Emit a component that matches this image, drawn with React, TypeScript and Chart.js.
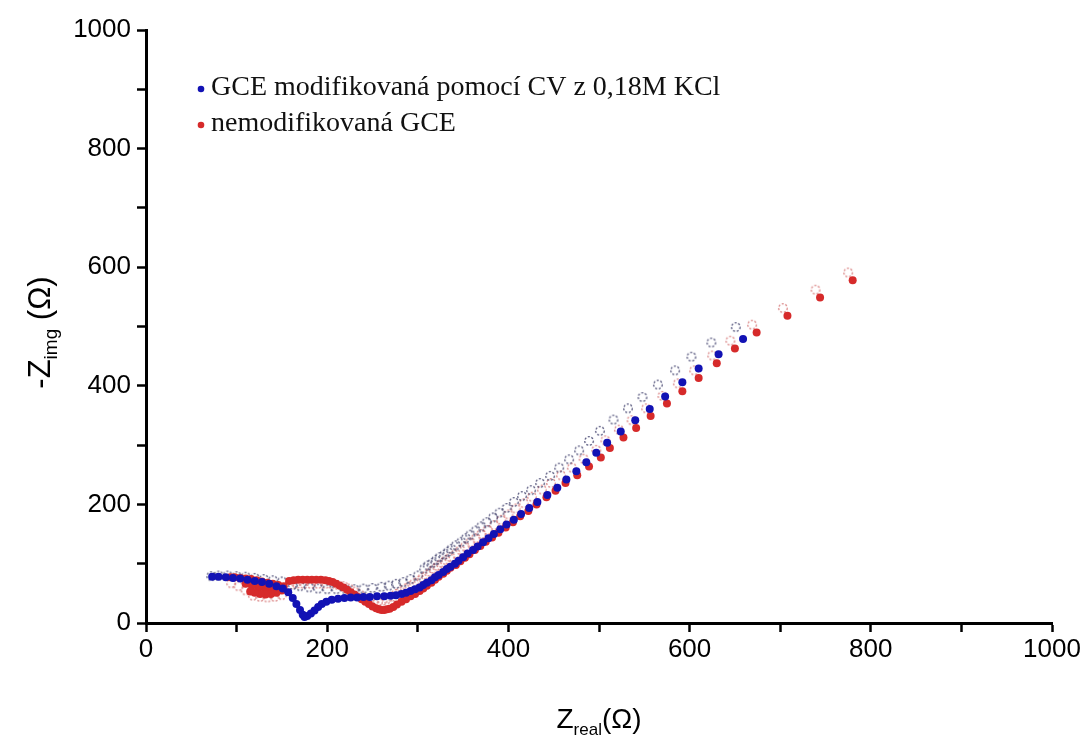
import React, { useEffect, useRef } from "react";
import { Chart, registerables } from "chart.js";

Chart.register(...registerables);

// ---- axis configuration ----
const X_MIN = 0;
const X_MAX = 1000;
const Y_MIN = 0;
const Y_MAX = 1000;
const TICK_STEP = 100;
const LABEL_STEP = 200;

// ---- texts ----
const seriesLabels = ["GCE modifikovaná pomocí CV z 0,18M KCl", "nemodifikovaná GCE"];
const xTitleParts = ["Z", "real", "(Ω)"];
const yTitleParts = ["-Z", "img", " (Ω)"];

// ---- series: GCE modifikovaná (blue) ----
const blueX = [659, 632, 610, 592, 573, 556, 540, 524, 509, 497, 486, 475, 464, 454, 443, 432, 423, 414, 406, 398, 391, 384, 378, 372, 366, 361, 355, 350, 345, 341, 336, 332, 328, 323, 319, 315, 310, 306, 302, 297, 292, 287, 282, 276, 270, 263, 255, 247, 240, 233, 226, 219, 212, 205, 199, 194, 190, 186, 182, 178, 175, 173, 170, 166, 162, 157, 151, 144, 136, 128, 120, 112, 104, 96, 88, 80, 73];
const blueY = [479, 453, 429, 406, 382, 361, 342, 323, 304, 287, 271, 256, 242, 228, 216, 204, 194, 184, 174, 166, 158, 150, 143, 136, 129, 123, 117, 111, 105, 100, 95, 91, 86, 81, 77, 72, 68, 64, 60, 57, 54, 51, 49, 47, 46, 45, 45, 44, 44, 43, 43, 42, 41, 39, 36, 32, 27, 21, 16, 12, 10, 14, 22, 32, 42, 52, 58, 62, 66, 69, 71, 73, 75, 76, 77, 78, 78];

// ---- series: nemodifikovaná (red) ----
const redX = [780, 744, 708, 674, 650, 630, 610, 592, 575, 557, 541, 527, 512, 502, 489, 476, 463, 452, 442, 431, 422, 413, 405, 397, 389, 382, 375, 369, 363, 357, 352, 347, 342, 336, 332, 328, 323, 319, 315, 310, 306, 302, 297, 292, 287, 282, 277, 273, 269, 266, 263, 260, 257, 254, 250, 246, 242, 238, 234, 230, 226, 222, 218, 214, 210, 206, 202, 198, 193, 188, 183, 178, 173, 168, 163, 158, 152, 146, 140, 134, 128, 122, 116, 110, 104, 98, 93, 145, 138, 131, 124, 117, 110, 150, 144, 138, 132, 126, 120, 115];
const redY = [578, 549, 518, 490, 463, 438, 413, 391, 370, 349, 329, 313, 295, 279, 264, 249, 236, 223, 212, 200, 189, 180, 170, 161, 152, 144, 137, 130, 123, 116, 110, 104, 98, 93, 88, 83, 78, 73, 68, 63, 58, 54, 49, 45, 40, 36, 31, 27, 24, 23, 22, 22, 23, 25, 28, 32, 36, 40, 44, 48, 52, 56, 60, 63, 66, 69, 71, 72, 73, 73, 73, 73, 73, 73, 72, 71, 62, 64, 66, 68, 70, 72, 74, 75, 76, 77, 77, 58, 57, 58, 60, 63, 66, 55, 51, 49, 48, 49, 51, 53];

// ---- faint open (ghost) markers ----
const blueOpenX = [651, 624, 602, 584, 565, 548, 532, 516, 501, 489, 478, 467, 456, 446, 435, 425, 415, 406, 398, 390, 383, 376, 370, 364, 358, 353, 348, 342, 337, 333, 329, 324, 320, 316, 311, 307, 300, 292, 284, 276, 268, 260, 250, 240, 230, 220, 210, 200, 190, 180, 170, 162, 150, 140, 130, 120, 110, 100, 90, 80, 72];
const blueOpenY = [499, 473, 449, 426, 402, 381, 362, 343, 324, 307, 291, 276, 262, 248, 236, 224, 214, 204, 194, 186, 178, 170, 163, 156, 149, 143, 137, 131, 125, 120, 115, 111, 106, 101, 97, 92, 80, 74, 69, 66, 63, 61, 59, 58, 57, 57, 57, 57, 58, 60, 62, 64, 70, 72, 74, 76, 78, 79, 80, 80, 79];
const redOpenX = [775, 739, 703, 669, 645, 625, 605, 587, 570, 552, 536, 522, 507, 497, 483, 470, 458, 447, 437, 426, 417, 408, 400, 392, 384, 377, 370, 364, 358, 352, 347, 342, 336, 331, 327, 322, 318, 314, 310, 305, 301, 296, 291, 286, 281, 276, 271, 266, 261, 256, 251, 246, 241, 236, 230, 224, 218, 212, 205, 198, 190, 182, 174, 166, 158, 150, 142, 134, 126, 118, 110, 102, 94];
const redOpenY = [591, 562, 531, 503, 476, 451, 426, 404, 383, 362, 342, 326, 308, 292, 277, 262, 249, 236, 225, 213, 202, 193, 183, 174, 165, 157, 150, 143, 136, 129, 123, 117, 111, 106, 101, 96, 91, 86, 81, 76, 71, 67, 62, 58, 53, 49, 44, 40, 37, 35, 36, 39, 43, 48, 53, 58, 62, 64, 66, 66, 66, 66, 66, 66, 64, 47, 44, 43, 44, 46, 55, 62, 67];

// ---- colours ----
const BLUE = "#1212b4";
const RED = "#d62a2a";
const BLUE_OPEN = "rgba(40,40,90,0.75)";
const RED_OPEN = "rgba(205,90,90,0.7)";

const TICK_FONT = "'Liberation Sans', Arial, sans-serif";
const SERIF_FONT = "'Liberation Serif', 'Times New Roman', serif";

function makeOpenMarker(color: string): HTMLCanvasElement {
  const c = document.createElement("canvas");
  c.width = 12;
  c.height = 12;
  const g = c.getContext("2d")!;
  g.strokeStyle = color;
  g.lineWidth = 1.3;
  g.setLineDash([2, 1.7]);
  g.beginPath();
  g.arc(6, 6, 4.3, 0, Math.PI * 2);
  g.stroke();
  return c;
}

function toPoints(xs: number[], ys: number[]) {
  return xs.map((x, i) => ({ x, y: ys[i] }));
}

export default function App() {
  const ref = useRef<HTMLCanvasElement>(null);

  useEffect(() => {
    const canvas = ref.current;
    if (!canvas) return;

    const overlay = {
      id: "overlay",
      afterDraw(chart: any) {
        const ctx = chart.ctx as CanvasRenderingContext2D;
        const area = chart.chartArea;
        ctx.save();
        // legend
        const colors = [BLUE, RED];
        seriesLabels.forEach((label, i) => {
          const y = 88 + i * 36;
          ctx.fillStyle = colors[i];
          ctx.beginPath();
          ctx.arc(201, y + 1, 3.3, 0, Math.PI * 2);
          ctx.fill();
          ctx.fillStyle = "#111";
          ctx.font = `28px ${SERIF_FONT}`;
          ctx.textBaseline = "middle";
          ctx.textAlign = "left";
          ctx.fillText(label, 211, y);
        });

        // x title
        const bigX = `28px ${TICK_FONT}`;
        const smallX = `17px ${TICK_FONT}`;
        ctx.fillStyle = "#000";
        ctx.textBaseline = "alphabetic";
        ctx.font = bigX;
        const w0 = ctx.measureText(xTitleParts[0]).width;
        const w2 = ctx.measureText(xTitleParts[2]).width;
        ctx.font = smallX;
        const w1 = ctx.measureText(xTitleParts[1]).width;
        const cx = (area.left + area.right) / 2;
        let x = cx - (w0 + w1 + w2) / 2;
        const by = 728;
        ctx.font = bigX;
        ctx.fillText(xTitleParts[0], x, by);
        x += w0;
        ctx.font = smallX;
        ctx.fillText(xTitleParts[1], x, by + 7);
        x += w1;
        ctx.font = bigX;
        ctx.fillText(xTitleParts[2], x, by);

        // y title (rotated)
        const bigY = `31px ${TICK_FONT}`;
        const smallY = `19px ${TICK_FONT}`;
        ctx.save();
        const cy = (area.top + area.bottom) / 2 + 6;
        ctx.translate(50, cy);
        ctx.rotate(-Math.PI / 2);
        ctx.font = bigY;
        const v0 = ctx.measureText(yTitleParts[0]).width;
        const v2 = ctx.measureText(yTitleParts[2]).width;
        ctx.font = smallY;
        const v1 = ctx.measureText(yTitleParts[1]).width;
        let t = -(v0 + v1 + v2) / 2;
        ctx.font = bigY;
        ctx.fillText(yTitleParts[0], t, 0);
        t += v0;
        ctx.font = smallY;
        ctx.fillText(yTitleParts[1], t, 7);
        t += v1;
        ctx.font = bigY;
        ctx.fillText(yTitleParts[2], t, 0);
        ctx.restore();

        ctx.restore();
      },
    };

    const tickCb = (v: any) => (Number(v) % LABEL_STEP === 0 ? String(v) : "");

    const chart = new Chart(canvas, {
      type: "scatter",
      data: {
        datasets: [
          {
            label: seriesLabels[0],
            data: toPoints(blueX, blueY),
            backgroundColor: BLUE,
            borderColor: BLUE,
            pointRadius: 4,
            pointBorderWidth: 0,
          },
          {
            label: seriesLabels[1],
            data: toPoints(redX, redY),
            backgroundColor: RED,
            borderColor: RED,
            pointRadius: 4,
            pointBorderWidth: 0,
          },
          {
            label: "open-blue",
            data: toPoints(blueOpenX, blueOpenY),
            pointStyle: makeOpenMarker(BLUE_OPEN) as any,
            pointRadius: 5,
          },
          {
            label: "open-red",
            data: toPoints(redOpenX, redOpenY),
            pointStyle: makeOpenMarker(RED_OPEN) as any,
            pointRadius: 5,
          },
        ],
      },
      options: {
        responsive: false,
        animation: false,
        devicePixelRatio: 1,
        layout: { padding: { top: 30, right: 34, left: 0, bottom: 0 } },
        plugins: {
          legend: { display: false },
          tooltip: { enabled: false },
        },
        scales: {
          x: {
            type: "linear",
            min: X_MIN,
            max: X_MAX,
            afterFit: (s: any) => {
              s.height = 115;
            },
            ticks: {
              stepSize: TICK_STEP,
              callback: tickCb,
              color: "#000",
              font: { family: TICK_FONT, size: 26 },
              padding: 2,
              maxRotation: 0,
              autoSkip: false,
            },
            grid: {
              drawOnChartArea: false,
              drawTicks: true,
              tickLength: 9,
              tickWidth: 2.5,
              tickColor: "#000",
            },
            border: { color: "#000", width: 3 },
          },
          y: {
            type: "linear",
            min: Y_MIN,
            max: Y_MAX,
            afterFit: (s: any) => {
              s.width = 146;
            },
            ticks: {
              stepSize: TICK_STEP,
              callback: tickCb,
              color: "#000",
              font: { family: TICK_FONT, size: 26 },
              padding: 6,
              autoSkip: false,
            },
            grid: {
              drawOnChartArea: false,
              drawTicks: true,
              tickLength: 9,
              tickWidth: 2.5,
              tickColor: "#000",
            },
            border: { color: "#000", width: 3 },
          },
        },
      },
      plugins: [overlay],
    });

    return () => chart.destroy();
  }, []);

  return (
    <div style={{ position: "absolute", left: 0, top: 0, width: 1086, height: 738, background: "#fff" }}>
      <canvas ref={ref} width={1086} height={738} style={{ display: "block" }} />
    </div>
  );
}
